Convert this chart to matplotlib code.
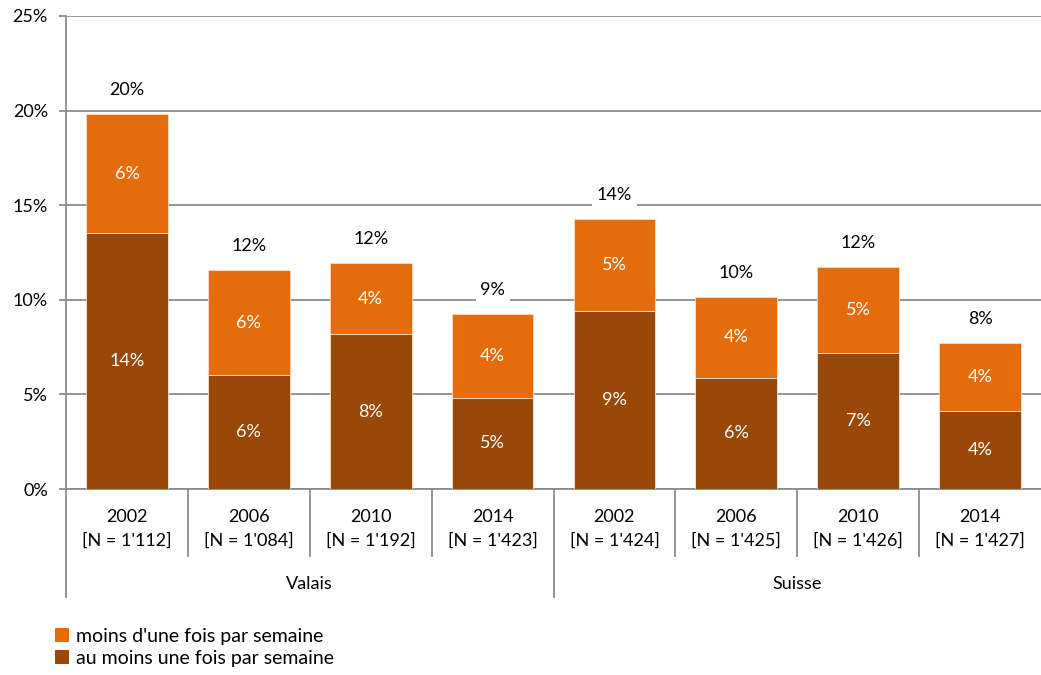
import matplotlib
matplotlib.use("Agg")
from matplotlib import pyplot as plt
from matplotlib.patches import Patch
import numpy as np

plt.rcParams['font.family'] = ['Lato', 'DejaVu Sans']

# données (%)
years = ['2002', '2006', '2010', '2014', '2002', '2006', '2010', '2014']
sizes = ["[N = 1'112]", "[N = 1'084]", "[N = 1'192]", "[N = 1'423]",
         "[N = 1'424]", "[N = 1'425]", "[N = 1'426]", "[N = 1'427]"]
groups = ['Valais', 'Suisse']
au_moins = [13.53, 6.03, 8.19, 4.81, 9.41, 5.87, 7.2, 4.12]
moins = [6.29, 5.54, 3.75, 4.44, 4.86, 4.28, 4.55, 3.6]
series_names = ["moins d'une fois par semaine", "au moins une fois par semaine"]

c_dark = '#984807'
c_light = '#E46C0A'
grey = '#8c8c8c'
fs = 13

fig = plt.figure(figsize=(10.41, 6.75), dpi=100)
ax = fig.add_axes([66 / 1041, 186 / 675, 975 / 1041, 473 / 675])

x = np.arange(len(years))
au_moins = np.array(au_moins)
moins = np.array(moins)
total = au_moins + moins

ax.bar(x, au_moins, width=0.67, color=c_dark, edgecolor='#f3e4d8', linewidth=0.6, zorder=3)
ax.bar(x, moins, width=0.67, bottom=au_moins, color=c_light, edgecolor='#f7dcc4',
       linewidth=0.6, zorder=3)

# étiquettes dans les segments
for i in range(len(x)):
    ax.text(x[i], au_moins[i] / 2, '%d%%' % round(au_moins[i]), ha='center', va='center',
            color='white', fontsize=fs, zorder=4)
    ax.text(x[i], au_moins[i] + moins[i] / 2, '%d%%' % round(moins[i]), ha='center',
            va='center', color='white', fontsize=fs, zorder=4)
    ax.annotate('%d%%' % round(total[i]), (x[i], total[i]), xytext=(0, 17),
                textcoords='offset points', ha='center', va='center', fontsize=fs,
                color='black', zorder=4,
                bbox=dict(boxstyle='square,pad=0.25', fc='white', ec='none'))

ax.set_xlim(-0.5, len(x) - 0.5)
ax.set_ylim(0, 25)
ax.set_yticks(range(0, 26, 5))
ax.set_yticklabels(['%d%%' % v for v in range(0, 26, 5)], fontsize=fs)
ax.grid(axis='y', color=grey, linewidth=1.3, zorder=0)
ax.set_axisbelow(True)
ax.tick_params(axis='y', length=5, width=1.3, color=grey, pad=8)
ax.tick_params(axis='x', length=0)
ax.set_xticks([])
for s in ['top', 'right']:
    ax.spines[s].set_visible(False)
ax.spines['left'].set_color(grey)
ax.spines['left'].set_linewidth(1.3)
ax.spines['bottom'].set_color(grey)
ax.spines['bottom'].set_linewidth(1.3)

# axe des catégories à deux niveaux
tr = ax.get_xaxis_transform()
short = -67 / 473
long_ = -108 / 473
ax.plot([-0.5, -0.5], [0, long_], transform=tr, color=grey, lw=1.3, clip_on=False)
for i in range(len(x)):
    ax.text(x[i], -28 / 473, years[i], transform=tr, ha='center', va='center', fontsize=fs)
    ax.text(x[i], -52 / 473, sizes[i], transform=tr, ha='center', va='center', fontsize=fs)
    if i > 0:
        y_end = long_ if i == 4 else short
        ax.plot([i - 0.5, i - 0.5], [0, y_end], transform=tr, color=grey, lw=1.3,
                clip_on=False)
for g, name in enumerate(groups):
    ax.text(g * 4 + 1.5, -95 / 473, name, transform=tr, ha='center', va='center', fontsize=fs)

handles = [Patch(facecolor=c_light), Patch(facecolor=c_dark)]
fig.legend(handles, series_names, loc='upper left', bbox_to_anchor=(0.053, 0.07),
           frameon=False, fontsize=14, handlelength=0.7, handleheight=0.7,
           handletextpad=0.35, labelspacing=0.25, borderpad=0, borderaxespad=0)

fig.savefig('out.png', dpi=100)
